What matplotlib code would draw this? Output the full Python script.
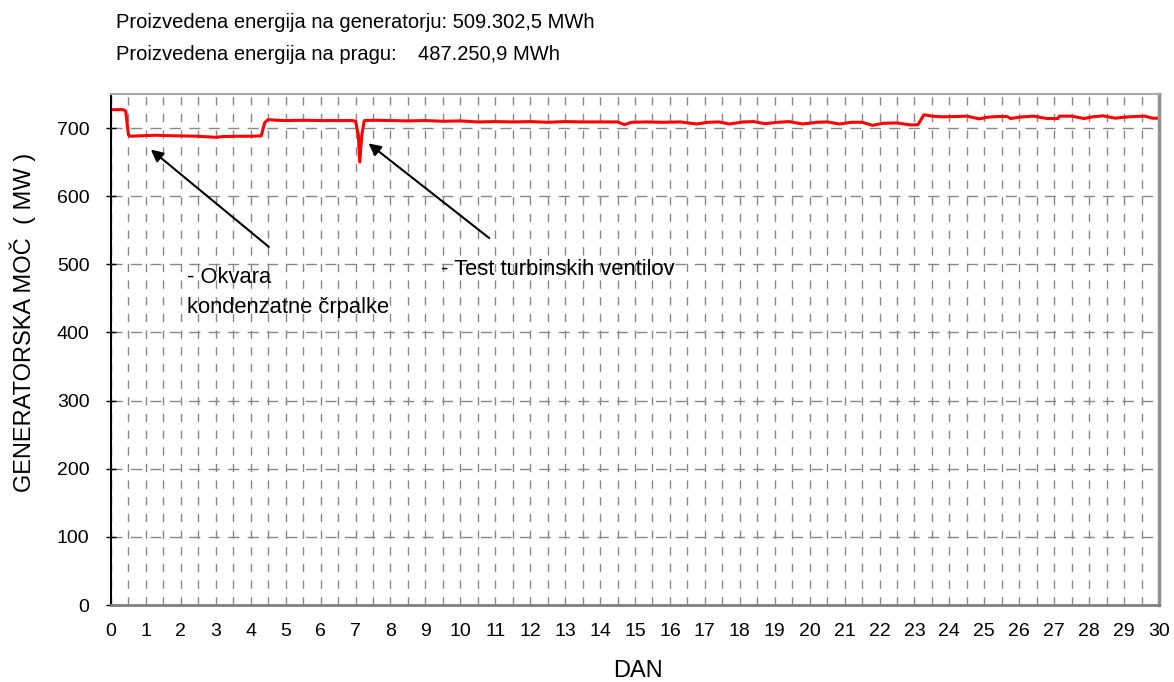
import matplotlib.pyplot as plt

plt.rcParams['font.family'] = ['Liberation Sans', 'DejaVu Sans']

# hand-read points of the generator power curve (day, MW)
dan = [0.0, 0.35, 0.42, 0.5, 0.55, 1.0, 1.3, 1.5, 2.0, 2.5, 2.8, 3.0, 3.2, 3.6,
       4.0, 4.3, 4.4, 4.5, 4.7, 5.0, 5.5, 6.0, 6.5, 6.9, 7.0, 7.08, 7.12, 7.18,
       7.25, 7.5, 8.0, 8.5, 9.0, 9.5, 10.0, 10.5, 11.0, 11.5, 12.0, 12.5, 13.0,
       13.5, 14.0, 14.5, 14.7, 14.9, 15.3, 15.8, 16.3, 16.76, 17.1, 17.4, 17.7,
       18.1, 18.4, 18.7, 19.1, 19.4, 19.8, 20.2, 20.5, 20.86, 21.2, 21.5, 21.8,
       22.1, 22.5, 22.9, 23.1, 23.27, 23.5, 23.8, 24.2, 24.5, 24.85, 25.1, 25.4,
       25.65, 25.75, 26.0, 26.4, 26.8, 27.1, 27.15, 27.5, 27.85, 28.1, 28.4,
       28.75, 29.0, 29.3, 29.6, 29.8, 30.0]
moc = [727, 727, 725, 690, 688, 689, 689.5, 689, 688.5, 688, 687, 686.5, 687.5, 688,
       688, 688.5, 708, 712.5, 711.5, 711, 711.5, 711, 711, 711, 710, 690, 650, 690,
       711, 711.5, 711, 710.5, 711, 710, 710.5, 709, 709.5, 709, 709.5, 708.5, 709.5,
       709, 709, 709, 705, 708.5, 709, 708.5, 709, 706, 708.5, 709, 706,
       709, 709.5, 706.5, 708.5, 709.5, 706, 708.5, 709, 706, 708.5, 708.5, 704,
       707, 707.5, 704.5, 705, 719.5, 717.5, 716.5, 717, 717.5, 713.5, 716, 717,
       717, 714, 716, 717.5, 714, 714, 717.5, 717.5, 714, 716.5, 718,
       714.5, 716, 717, 717.5, 714.5, 714.5]

x_ticks = list(range(0, 31))
y_ticks = [0, 100, 200, 300, 400, 500, 600, 700]

fig = plt.figure(figsize=(11.74, 6.82), dpi=100)
ax = fig.add_axes([111 / 1174, 77 / 682, 1048 / 1174, 511 / 682])

ax.plot(dan, moc, color='#ff0000', lw=2.2)

ax.set_xlim(0, 30)
ax.set_ylim(0, 750)
ax.set_xticks(x_ticks)
ax.set_yticks(y_ticks)
ax.set_xticks([i + 0.5 for i in range(30)], minor=True)
ax.tick_params(axis='x', which='both', length=0, labelsize=14, pad=13)
ax.tick_params(axis='y', direction='inout', length=7, width=1, labelsize=14, pad=12)

ax.grid(True, which='both', axis='x', color='#888888', ls=(0, (6, 6)), lw=1)
ax.grid(True, which='major', axis='y', color='#888888', ls=(0, (8, 6)), lw=1)

ax.spines['left'].set_color('black')
ax.spines['left'].set_linewidth(1.5)
ax.spines['bottom'].set_color('#808080')
ax.spines['bottom'].set_linewidth(2)
ax.spines['right'].set_color('#909090')
ax.spines['right'].set_linewidth(2.5)
ax.spines['top'].set_color('#a8a8a8')
ax.spines['top'].set_linewidth(1.5)

fig.text(638 / 1174, 1 - 671 / 682, 'DAN', fontsize=17, ha='center', va='center')
fig.text(23 / 1174, 1 - 322 / 682, 'GENERATORSKA MOČ  ( MW )', fontsize=17,
         rotation=90, ha='center', va='center')

# annotations
arrow = dict(arrowstyle='-|>', color='black', lw=1.5, mutation_scale=18)
ax.annotate('', xy=(1.08, 671), xytext=(4.58, 523), arrowprops=arrow)
ax.annotate('', xy=(7.31, 680), xytext=(10.89, 536), arrowprops=arrow)
ax.text(2.18, 472, '- Okvara', fontsize=15.8, va='baseline', ha='left')
ax.text(2.18, 428, 'kondenzatne črpalke', fontsize=15.8, va='baseline', ha='left')
ax.text(9.46, 484, '- Test turbinskih ventilov', fontsize=15.8,
        va='baseline', ha='left')

fig.text(116 / 1174, 1 - 22 / 682, 'Proizvedena energija na generatorju: 509.302,5 MWh',
         fontsize=14.5, va='center', ha='left')
fig.text(116 / 1174, 1 - 54 / 682, 'Proizvedena energija na pragu:',
         fontsize=14.5, va='center', ha='left')
fig.text(418 / 1174, 1 - 54 / 682, '487.250,9 MWh',
         fontsize=14.5, va='center', ha='left')

plt.savefig('out.png')
